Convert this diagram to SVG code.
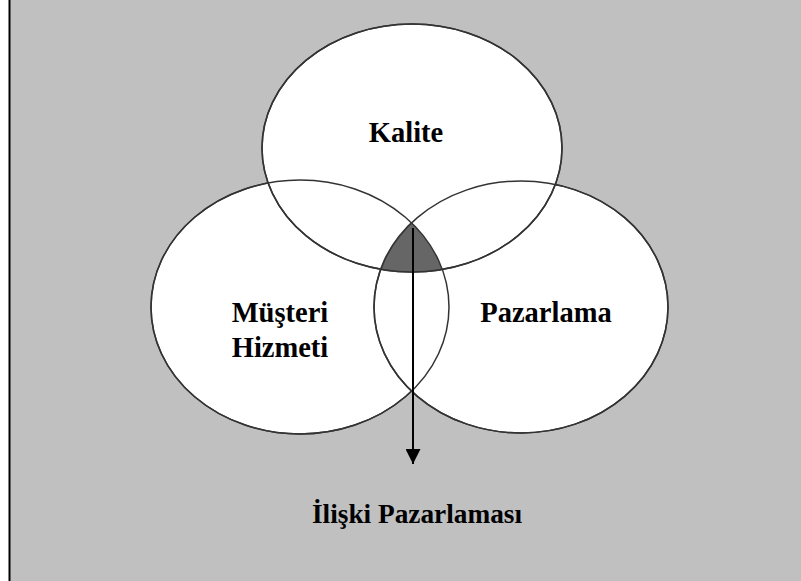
<svg xmlns="http://www.w3.org/2000/svg" width="801" height="581" viewBox="0 0 801 581">
  <style>
    .circ { fill: #ffffff; stroke: #333333; stroke-width: 1.5; }
    .ring { fill: none; stroke: #333333; stroke-width: 1.5; }
    .lbl { font-family: "Liberation Serif", "Times New Roman", serif; font-weight: bold; font-size: 28.5px; fill: #000000; text-anchor: middle; }
    .lbl2 { font-family: "Liberation Serif", "Times New Roman", serif; font-weight: bold; font-size: 27.3px; fill: #000000; text-anchor: middle; }
  </style>
  <defs>
    <clipPath id="clipL"><ellipse cx="300" cy="307" rx="149" ry="127"/></clipPath>
    <clipPath id="clipR"><ellipse cx="521" cy="307" rx="148" ry="127"/></clipPath>
    <marker id="arrow" viewBox="0 0 10 10" refX="10" refY="5" markerWidth="15" markerHeight="15" markerUnits="userSpaceOnUse" orient="auto">
      <path d="M0,0 L10,5 L0,10 Z" fill="#000000"/>
    </marker>
  </defs>
  <rect x="0" y="0" width="801" height="581" fill="#ffffff"/>
  <rect x="9" y="0" width="792" height="581" fill="#c0c0c0"/>
  <line x1="9.5" y1="0" x2="9.5" y2="581" stroke="#000000" stroke-width="2"/>

  <g id="node-musteri-hizmeti">
    <ellipse class="circ" cx="300" cy="307" rx="149" ry="127"/>
  </g>
  <g id="node-pazarlama">
    <ellipse class="circ" cx="521" cy="307" rx="147" ry="126"/>
  </g>
  <g id="node-kalite">
    <ellipse class="circ" cx="412" cy="148" rx="150" ry="124"/>
  </g>
  <g id="overlap">
    <g clip-path="url(#clipR)">
      <ellipse cx="412" cy="148" rx="150" ry="124" fill="#666666" clip-path="url(#clipL)"/>
    </g>
    <ellipse class="ring" cx="300" cy="307" rx="149" ry="127"/>
    <ellipse class="ring" cx="521" cy="307" rx="147" ry="126"/>
    <ellipse class="ring" cx="412" cy="148" rx="150" ry="124"/>
  </g>

  <g id="labels">
    <text class="lbl" x="406" y="142">Kalite</text>
    <text class="lbl" x="280" y="322">Müşteri</text>
    <text class="lbl" x="280" y="357">Hizmeti</text>
    <text class="lbl" x="546" y="322">Pazarlama</text>
  </g>

  <g id="connectors">
    <line x1="413" y1="228" x2="413" y2="464" stroke="#000000" stroke-width="2" marker-end="url(#arrow)"/>
  </g>

  <g id="node-iliski">
    <text class="lbl2" x="417" y="523">İlişki Pazarlaması</text>
  </g>
</svg>
